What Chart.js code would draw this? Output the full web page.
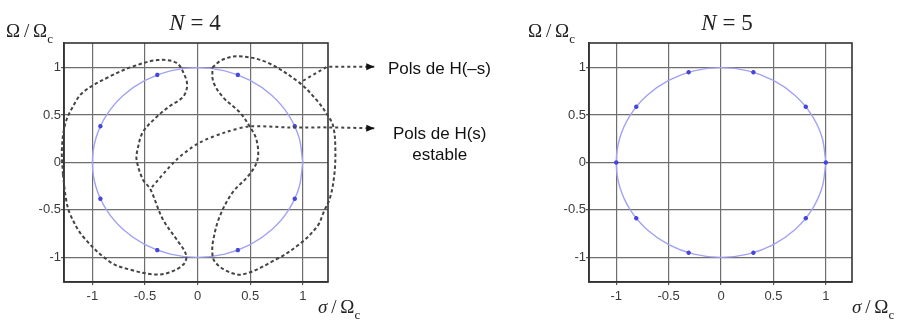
<!DOCTYPE html>
<html lang="ca">
<head>
    <meta charset="UTF-8">
    <title>Pols de Butterworth</title>
    <script src="https://cdn.jsdelivr.net/npm/chart.js"></script>
    <style>
        body { margin: 0; background: #fff; }
        #wrap { position: relative; width: 899px; height: 322px; overflow: hidden; }
        .pane { position: absolute; top: 0; height: 322px; }
        .tex { position: absolute; font-family: "Liberation Serif", "DejaVu Serif", serif; color: #222; line-height: 1; white-space: nowrap; }
        .tex i { font-style: italic; }
        .tex .sub { font-size: 13px; position: relative; top: 6px; }
        .note { position: absolute; font-family: "Liberation Sans", Arial, sans-serif; font-size: 17px; color: #111; white-space: nowrap; }
    </style>
</head>
<body>
<div id="wrap">
    <div class="pane" style="left:0; width:520px;"><canvas id="chartN4"></canvas></div>
    <div class="pane" style="left:520px; width:379px;"><canvas id="chartN5"></canvas></div>

    <!-- titols i etiquetes dels eixos -->
    <div class="tex" style="left:0; width:390px; top:11px; font-size:23px; text-align:center;"><i>N</i> = 4</div>
    <div class="tex" style="left:532px; width:390px; top:11px; font-size:23px; text-align:center;"><i>N</i> = 5</div>
    <div class="tex" style="left:6px; top:21px; font-size:19px;">Ω&thinsp;/&thinsp;Ω<span class="sub">c</span></div>
    <div class="tex" style="left:528px; top:21px; font-size:19px;">Ω&thinsp;/&thinsp;Ω<span class="sub">c</span></div>
    <div class="tex" style="left:318px; top:297px; font-size:19px;"><i>σ</i>&thinsp;/&thinsp;Ω<span class="sub">c</span></div>
    <div class="tex" style="left:852px; top:297px; font-size:19px;"><i>σ</i>&thinsp;/&thinsp;Ω<span class="sub">c</span></div>

    <!-- anotacions -->
    <div class="note" style="left:388px; top:60px; line-height:17px;">Pols de H(–s)</div>
    <div class="note" style="left:393px; top:123px; line-height:21px; text-align:center;">Pols de H(s)<br>estable</div>
</div>

<script>
// eixos
const xTicks = [-1, -0.5, 0, 0.5, 1];
const yTicks = [-1, -0.5, 0, 0.5, 1];

// circumferencia unitat (cada 15 graus)
const circleX = [1, 0.966, 0.866, 0.707, 0.5, 0.259, 0, -0.259, -0.5, -0.707, -0.866, -0.966, -1,
                 -0.966, -0.866, -0.707, -0.5, -0.259, 0, 0.259, 0.5, 0.707, 0.866, 0.966, 1];
const circleY = [0, 0.259, 0.5, 0.707, 0.866, 0.966, 1, 0.966, 0.866, 0.707, 0.5, 0.259, 0,
                 -0.259, -0.5, -0.707, -0.866, -0.966, -1, -0.966, -0.866, -0.707, -0.5, -0.259, 0];

// pols de H(s)H(-s)
const polesN4X = [0.383, 0.924, 0.924, 0.383, -0.383, -0.924, -0.924, -0.383];
const polesN4Y = [0.924, 0.383, -0.383, -0.924, -0.924, -0.383, 0.383, 0.924];
const polesN5X = [1, 0.809, 0.309, -0.309, -0.809, -1, -0.809, -0.309, 0.309, 0.809];
const polesN5Y = [0, 0.588, 0.951, 0.951, 0.588, 0, -0.588, -0.951, -0.951, -0.588];

// llaç al voltant dels pols del semipla esquerre
const leftLoopX = [-1.28, -1.29, -1.26, -1.19, -1.09, -0.83, -0.62, -0.38, -0.20, -0.12, -0.10, -0.14, -0.27,
                   -0.39, -0.52, -0.57, -0.58, -0.52, -0.45, -0.33, -0.20, -0.11, -0.13, -0.27, -0.41,
                   -0.64, -0.83, -1.09, -1.21, -1.25, -1.28];
const leftLoopY = [-0.13, 0.14, 0.40, 0.58, 0.74, 0.91, 1.01, 1.08, 1.05, 0.91, 0.80, 0.69, 0.59,
                   0.48, 0.32, 0.14, 0.03, -0.18, -0.28, -0.60, -0.81, -0.97, -1.07, -1.16, -1.18,
                   -1.13, -1.05, -0.78, -0.55, -0.39, -0.13];

// llaç al voltant dels pols del semipla dret
const rightLoopX = [0.14, 0.23, 0.38, 0.65, 0.97, 1.13, 1.23, 1.29, 1.31, 1.30, 1.26, 1.20, 1.14, 0.97,
                    0.75, 0.43, 0.27, 0.16, 0.14, 0.15, 0.21, 0.33, 0.49, 0.57, 0.56, 0.49, 0.40, 0.24,
                    0.15, 0.14];
const rightLoopY = [1.00, 1.08, 1.12, 1.06, 0.84, 0.66, 0.51, 0.38, 0.14, -0.13, -0.37, -0.52, -0.67, -0.86,
                    -1.02, -1.18, -1.14, -1.04, -0.94, -0.81, -0.57, -0.32, -0.13, 0.03, 0.24, 0.39, 0.53, 0.69,
                    0.85, 1.00];

// fletxes cap a les anotacions (el primer punt es la punta)
const arrowMinusX = [1.68, 1.23, 0.97];
const arrowMinusY = [1.01, 1.01, 0.84];
const arrowStableX = [1.68, 1.25, 0.87, 0.49, 0.27, 0.02, -0.20, -0.45];
const arrowStableY = [0.36, 0.37, 0.37, 0.38, 0.32, 0.21, 0.03, -0.28];

const zip = (xs, ys) => xs.map((x, i) => ({ x: x, y: ys[i] }));

// marc complet al voltant de l'area del grafic
const frame = {
    id: 'frame',
    beforeDatasetsDraw(chart) {
        const a = chart.chartArea, ctx = chart.ctx;
        ctx.save();
        ctx.strokeStyle = '#333';
        ctx.lineWidth = 1.6;
        ctx.strokeRect(a.left, a.top, a.right - a.left, a.bottom - a.top);
        ctx.restore();
    }
};

// puntes de fletxa (fora de l'area, on Chart.js no dibuixa punts)
const arrowHeads = {
    id: 'arrowHeads',
    afterDatasetsDraw(chart) {
        const ctx = chart.ctx;
        chart.data.datasets.forEach((ds, i) => {
            if (!ds.arrowHead) return;
            const pts = chart.getDatasetMeta(i).data;
            const tip = pts[0], prev = pts[1];
            const ang = Math.atan2(tip.y - prev.y, tip.x - prev.x);
            ctx.save();
            ctx.translate(tip.x, tip.y);
            ctx.rotate(ang);
            ctx.fillStyle = '#111';
            ctx.beginPath();
            ctx.moveTo(0, 0);
            ctx.lineTo(-8, -3.5);
            ctx.lineTo(-8, 3.5);
            ctx.closePath();
            ctx.fill();
            ctx.restore();
        });
    }
};

function circleSet() {
    return { data: zip(circleX, circleY), showLine: true, borderColor: '#a2a2f4', borderWidth: 1.4,
             pointRadius: 0, tension: 0.33 };
}
function poleSet(xs, ys) {
    return { data: zip(xs, ys), showLine: false, pointStyle: 'star', pointRadius: 2.2,
             borderColor: '#4646dc', borderWidth: 1.4, backgroundColor: '#4646dc' };
}
function dashedSet(xs, ys) {
    return { data: zip(xs, ys), showLine: true, borderColor: '#444', borderWidth: 2,
             borderDash: [3.5, 2.5], pointRadius: 0, tension: 0.35, clip: false };
}
function arrowSet(xs, ys, tension) {
    const s = dashedSet(xs, ys);
    s.tension = tension;
    s.arrowHead = true;
    s.borderDash = [3, 3];
    return s;
}

function scales(xr, yr, yWidth) {
    const grid = { color: '#6e6e6e', lineWidth: 1.2, tickLength: 3, tickColor: '#555' };
    const ticks = { color: '#3a3a3a', font: { family: 'Liberation Sans, Arial', size: 13 },
                    callback: v => String(v) };
    return {
        x: { type: 'linear', min: xr[0], max: xr[1], grid: grid, border: { color: '#333', width: 1.6 },
             ticks: Object.assign({ padding: 4, maxRotation: 0 }, ticks),
             afterBuildTicks: s => { s.ticks = xTicks.map(v => ({ value: v })); },
             afterFit: s => { s.height = 40; } },
        y: { type: 'linear', min: yr[0], max: yr[1], grid: grid, border: { color: '#333', width: 1.6 },
             ticks: Object.assign({ padding: 0 }, ticks),
             afterBuildTicks: s => { s.ticks = yTicks.map(v => ({ value: v })); },
             afterFit: s => { s.width = yWidth; } }
    };
}

function makeChart(id, datasets, xr, yWidth, padRight) {
    return new Chart(document.getElementById(id), {
        type: 'scatter',
        data: { datasets: datasets },
        options: {
            responsive: true, maintainAspectRatio: false, animation: false,
            layout: { padding: { left: 0, top: 43, right: padRight, bottom: 0 } },
            plugins: { legend: { display: false }, tooltip: { enabled: false } },
            scales: scales(xr, [-1.26, 1.26], yWidth)
        },
        plugins: [frame, arrowHeads]
    });
}

makeChart('chartN4', [
    arrowSet(arrowMinusX, arrowMinusY, 0),
    arrowSet(arrowStableX, arrowStableY, 0.3),
    dashedSet(leftLoopX, leftLoopY),
    dashedSet(rightLoopX, rightLoopY),
    poleSet(polesN4X, polesN4Y),
    circleSet()
], [-1.27, 1.24], 64, 192);

makeChart('chartN5', [
    poleSet(polesN5X, polesN5Y),
    circleSet()
], [-1.26, 1.25], 69, 47);
</script>
</body>
</html>
